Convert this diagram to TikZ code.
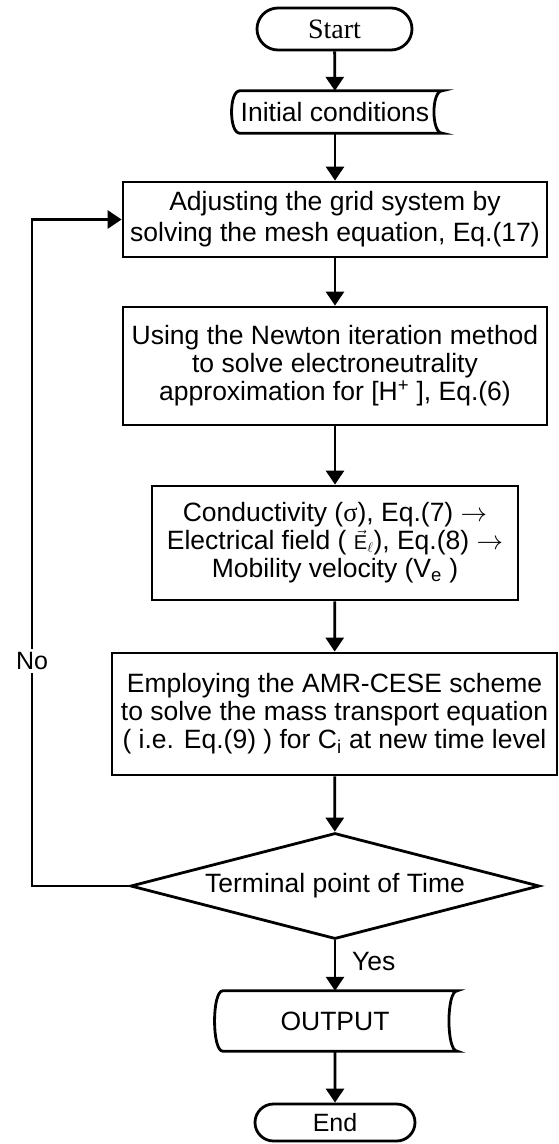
\documentclass[tikz,border=0pt]{standalone}
\usepackage{fix-cm}
\usepackage{fontspec}
\setmainfont{Liberation Sans}
\newfontfamily\serifface{Liberation Serif}
\usetikzlibrary{arrows.meta,shapes.geometric,shapes.misc}
\begin{document}
\begin{tikzpicture}[x=1pt,y=-1pt,
  lw/.style={line width=2.8pt},
  txt/.style={font=\fontsize{26.5}{28}\selectfont, align=center, inner sep=0pt},
  procbox/.style={txt, draw, lw, rectangle},
  termbox/.style={txt, draw, lw, rounded rectangle},
  storebox/.style={txt, rectangle},
  decbox/.style={txt, diamond, draw, lw, aspect=4},
  conn/.style={lw, -{Triangle[length=14pt,width=18pt]}},
  lab/.style={txt}
]
\useasboundingbox (0,0) rectangle (558,1144);

\node[termbox, minimum width=155pt, minimum height=42pt, font=\serifface\fontsize{28}{28}\selectfont] (start) at (334.5,29) {Start};

\node[storebox, minimum width=206pt, minimum height=42pt] (init) at (335,112) {Initial conditions};
\draw[lw, line join=miter] ([xshift=8pt]init.north west) -- ([xshift=4pt]init.north east)
  .. controls ([xshift=-7pt]init.north east) and ([xshift=-7pt]init.south east) .. ([xshift=4pt]init.south east)
  -- ([xshift=8pt]init.south west)
  .. controls ([xshift=-3pt]init.south west) and ([xshift=-3pt]init.north west) .. cycle;

\node[procbox, minimum width=424pt, minimum height=75pt, font=\fontsize{26.5}{31}\selectfont] (b1) at (335,219.5)
  {Adjusting the grid system by\\solving the mesh equation, Eq.(17)};

\node[procbox, minimum width=424pt, minimum height=118pt] (b2) at (335,366)
  {Using the Newton iteration method\\to solve electroneutrality\\approximation for [H\textsuperscript{+}~], Eq.(6)};

\node[procbox, minimum width=366pt, minimum height=114pt] (b3) at (335,543)
  {Conductivity ({\serifface σ}), Eq.(7) $\rightarrow$\\
   Electrical field ( {\fontsize{20}{20}\selectfont$\vec{\mathrm{E}}_{\ell}$}), Eq.(8) $\rightarrow$\\
   Mobility velocity (V\textsubscript{e}~)};

\node[procbox, minimum width=445pt, minimum height=122pt] (b4) at (334.5,714)
  {Employing the AMR-CESE scheme\\to solve the mass transport equation\\( i.e. Eq.(9) ) for C\textsubscript{i} at new time level};

\node[decbox, minimum width=409pt, minimum height=106pt] (dec) at (335,886) {Terminal point of Time};

\node[storebox, minimum width=234pt, minimum height=60pt] (out) at (335,1021) {OUTPUT};
\draw[lw, line join=miter] ([xshift=5pt]out.north west) -- ([xshift=5pt]out.north east)
  .. controls ([xshift=-6pt]out.north east) and ([xshift=-6pt]out.south east) .. ([xshift=5pt]out.south east)
  -- ([xshift=5pt]out.south west)
  .. controls ([xshift=-6pt]out.south west) and ([xshift=-6pt]out.north west) .. cycle;

\node[termbox, minimum width=160pt, minimum height=37pt, font=\fontsize{25}{25}\selectfont] (stop) at (335,1122.5) {End};

\draw[conn] (start) -- (init);
\draw[conn] (init) -- (b1);
\draw[conn] (b1) -- (b2);
\draw[conn] (b2) -- (b3);
\draw[conn] (b3) -- (b4);
\draw[conn] (b4) -- (dec);
\draw[conn] (dec) -- (out);
\draw[conn] (out) -- (stop);

\coordinate (loop) at (32,886);
\draw[conn] (dec.west) -- (loop) |- (b1.west);
\node[lab, fill=white, inner sep=3pt, font=\fontsize{25}{25}\selectfont] (nolab) at (32,661) {No};
\node[lab, anchor=west] (yeslab) at (352,962) {Yes};
\end{tikzpicture}
\end{document}
